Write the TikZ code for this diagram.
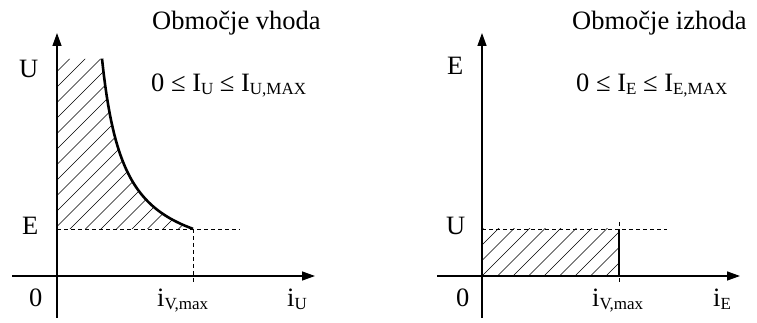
\documentclass[tikz,border=0pt]{standalone}
\usepackage{fontspec}
\setmainfont{Liberation Serif}
\usetikzlibrary{arrows.meta}
\newcommand\sbx[1]{\raisebox{-2.5pt}{\fontsize{17}{19}\selectfont #1}}
\begin{document}
\begin{tikzpicture}[x=1pt,y=1pt,
  axis/.style={line width=1.4pt,-{Triangle[length=13pt,width=9pt]}},
  dashline/.style={line width=0.8pt,dash pattern=on 4pt off 3pt},
  hatch/.style={line width=0.6pt},
  bound/.style={line width=2.6pt},
  lbl/.style={anchor=base west,inner sep=0pt,font=\fontsize{26.5}{30}\selectfont}]
\useasboundingbox (0,0) rectangle (757,323);
% ---------- left plot ----------
\coordinate (L0) at (57,47);
\coordinate (LyB) at (57,5);
\coordinate (LyT) at (57,290);
\coordinate (LxL) at (12,47);
\coordinate (LxR) at (315,47);
\coordinate (LE) at (57,94);
\coordinate (LEend) at (240,94);
\coordinate (Lmax) at (193,94);
\coordinate (LmaxB) at (193,40);
\begin{scope}
  \clip (57,94) -- (57,264) -- (102,264) -- plot[domain=102:193,samples=60] (\x,{53+4650/(\x-80)}) -- cycle;
  \foreach \k in {-14,...,10}
    \draw[hatch] ({70+15.5*\k-20},74) -- ({70+15.5*\k+200},294);
\end{scope}
\draw[dashline] (LE) -- (LEend);
\draw[dashline] (Lmax) -- (LmaxB);
\draw[bound] plot[domain=102:193,samples=60] (\x,{53+4650/(\x-80)});
\draw[axis] (LyB) -- (LyT);
\draw[axis] (LxL) -- (LxR);
\node[lbl] (tL) at (152,293) {Območje vhoda};
\node[lbl] (cL) at (151,231) {0 ≤ I\sbx{U} ≤ I\sbx{U,MAX}};
\node[lbl] (uL) at (19,245) {U};
\node[lbl] (eL) at (22,88) {E};
\node[lbl] (zL) at (29,16) {0};
\node[lbl] (iL) at (157,16) {i\sbx{V,max}};
\node[lbl] (xL) at (287,16) {i\sbx{U}};
% ---------- right plot ----------
\coordinate (R0) at (482,47);
\coordinate (RyB) at (482,5);
\coordinate (RyT) at (482,290);
\coordinate (RxL) at (437,47);
\coordinate (RxR) at (740,47);
\coordinate (RU) at (482,94);
\coordinate (RUend) at (667,94);
\coordinate (Rtop) at (619,101);
\coordinate (Rmax) at (619,94);
\coordinate (Rbase) at (619,47);
\coordinate (RmaxB) at (619,40);
\begin{scope}
  \clip (482,47) rectangle (619,94);
  \foreach \k in {-4,...,10}
    \draw[hatch] ({482+15.5*\k-10},37) -- ({482+15.5*\k+60},107);
\end{scope}
\draw[dashline] (RU) -- (RUend);
\draw[dashline] (Rtop) -- (RmaxB);
\draw[bound] (Rbase) -- (Rmax);
\draw[axis] (RyB) -- (RyT);
\draw[axis] (RxL) -- (RxR);
\node[lbl] (tR) at (572,293) {Območje izhoda};
\node[lbl] (cR) at (576,231) {0 ≤ I\sbx{E} ≤ I\sbx{E,MAX}};
\node[lbl] (eR) at (447,248) {E};
\node[lbl] (uR) at (446,88) {U};
\node[lbl] (zR) at (456,16) {0};
\node[lbl] (iR) at (592,16) {i\sbx{V,max}};
\node[lbl] (xR) at (713,16) {i\sbx{E}};
\end{tikzpicture}
\end{document}
